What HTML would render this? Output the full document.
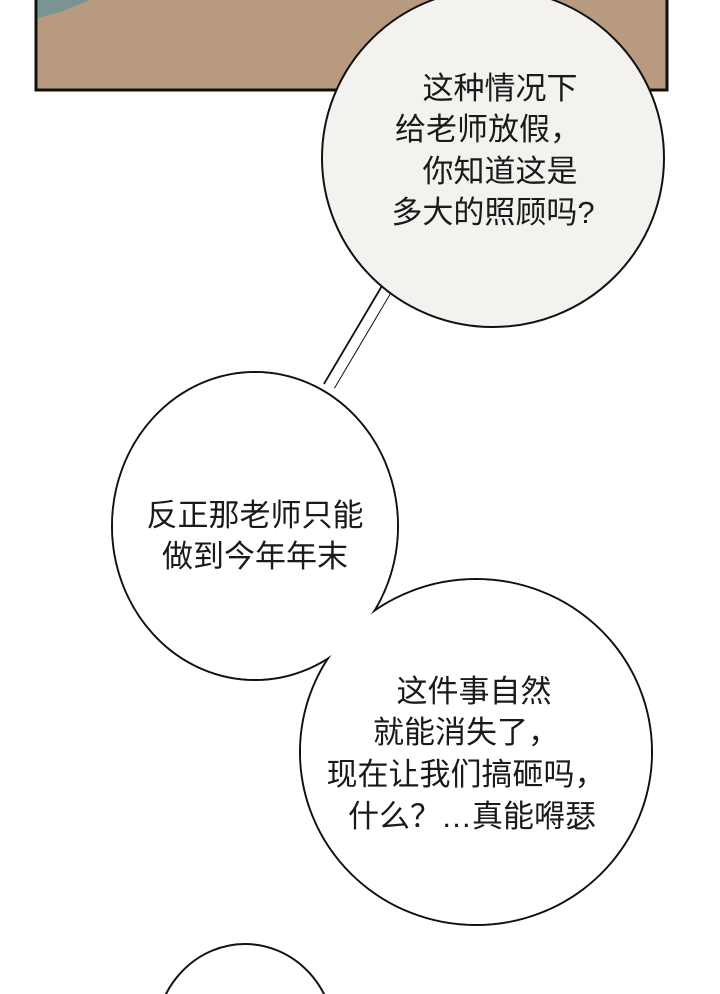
<!DOCTYPE html>
<html><head><meta charset="utf-8"><style>
html,body{margin:0;padding:0;background:#fff;width:720px;height:994px;overflow:hidden}
svg{display:block}
text{font-family:"Liberation Sans","Noto Sans CJK SC",sans-serif;font-size:31px;fill:#1a1a1a;text-anchor:middle}
</style></head><body>
<svg width="720" height="994" viewBox="0 0 720 994">
<rect x="0" y="0" width="720" height="994" fill="#fff"/>
<rect x="36" y="-3" width="631" height="93" fill="#b89a80" stroke="#111" stroke-width="3"/>
<polygon points="38,0 90,0 60,12 38,18" fill="#7a9494"/>
<line x1="392" y1="290" x2="334" y2="388" stroke="#111" stroke-width="2"/>
<line x1="382" y1="286" x2="324" y2="384" stroke="#111" stroke-width="2"/>
<polygon points="383,286 392,290 334,388 325,384" fill="#fff"/>
<ellipse cx="493" cy="158" rx="171" ry="169" fill="#f4f2ef" stroke="#111" stroke-width="2"/>
<ellipse cx="255" cy="526" rx="143" ry="154" fill="#fff" stroke="#111" stroke-width="2"/>
<ellipse cx="476" cy="752" rx="176" ry="173" fill="#fff" stroke="#111" stroke-width="2"/>
<ellipse cx="255" cy="526" rx="142" ry="153" fill="#fff"/>
<ellipse cx="476" cy="752" rx="175" ry="172" fill="#fff"/>
<ellipse cx="245" cy="1040" rx="90" ry="96" fill="#fff" stroke="#111" stroke-width="2"/>
<text x="500" y="99">这种情况下</text>
<text x="488" y="140">给老师放假，</text>
<text x="500" y="182">你知道这是</text>
<text x="493" y="223">多大的照顾吗?</text>
<text x="255" y="526">反正那老师只能</text>
<text x="255" y="567">做到今年年末</text>
<text x="474" y="702">这件事自然</text>
<text x="466" y="743">就能消失了，</text>
<text x="466" y="785">现在让我们搞砸吗，</text>
<text x="472" y="827">什么？…真能嘚瑟</text>
</svg>
</body></html>
